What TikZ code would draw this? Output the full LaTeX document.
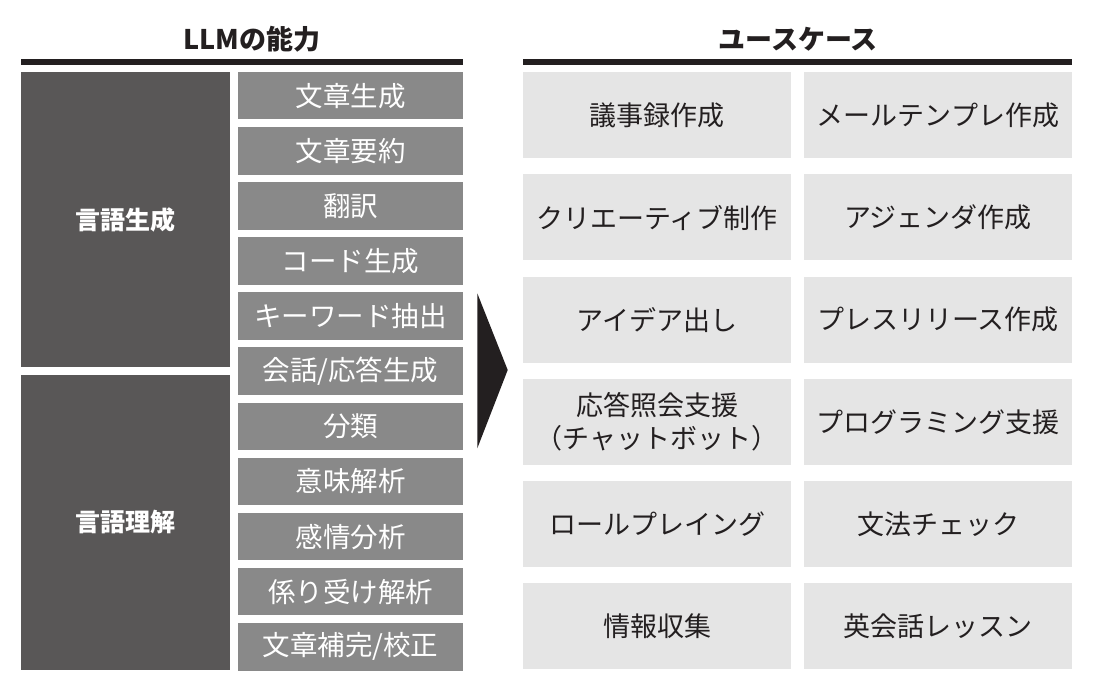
\documentclass[tikz,border=0pt]{standalone}
\usepackage{fontspec}
\setmainfont{Noto Sans CJK JP}
\definecolor{barc}{HTML}{231F20}
\definecolor{darkblk}{HTML}{595757}
\definecolor{midgrey}{HTML}{898989}
\definecolor{lightgrey}{HTML}{E5E5E5}
\begin{document}
\begin{tikzpicture}[x=1pt,y=-1pt,
  capbox/.style={fill=midgrey, text=white, minimum width=225pt, minimum height=47.5pt, inner sep=0pt, font=\fontsize{27.5}{30}\selectfont},
  groupbox/.style={fill=darkblk, text=white, minimum width=209pt, minimum height=295pt, inner sep=0pt, font=\fontsize{25}{28}\selectfont\bfseries},
  usebox/.style={fill=lightgrey, text=barc, minimum width=268pt, minimum height=86pt, inner sep=0pt, align=center, font=\fontsize{27}{33}\selectfont},
  titletext/.style={text=barc, font=\fontsize{27}{30}\selectfont\bfseries, inner sep=0pt}]
\useasboundingbox (0,0) rectangle (1101,692);
% title bars
\fill[barc] (21,59) rectangle (463,65.5);
\fill[barc] (523,59) rectangle (1072,65.5);
\node[titletext] (t1) at (252,39) {LLMの能力};
\node[titletext] (t2) at (798,39) {ユースケース};
% group blocks
\node[groupbox] (g1) at (125.5,219.5) {言語生成};
\node[groupbox] (g2) at (125.5,522.5) {言語理解};
% capability boxes
\foreach \t [count=\i from 0] in {文章生成,文章要約,翻訳,コード生成,キーワード抽出,会話/応答生成,分類,意味解析,感情分析,係り受け解析,文章補完/校正}
  \node[capbox] (c\i) at (350.5,{95.75+55.1*\i}) {\t};
% arrow
\fill[barc] (477.3,293.3) -- (507.7,370) -- (477.3,448.3) -- cycle;
% use cases
\foreach \a/\b [count=\i from 0] in {議事録作成/メールテンプレ作成,クリエーティブ制作/アジェンダ作成,アイデア出し/プレスリリース作成,{応答照会支援\\（チャットボット）}/プログラミング支援,ロールプレイング/文法チェック,情報収集/英会話レッスン}
{
  \node[usebox] (ua\i) at (657,{115.3+102.2*\i}) {\a};
  \node[usebox] (ub\i) at (938,{115.3+102.2*\i}) {\b};
}
\end{tikzpicture}
\end{document}
